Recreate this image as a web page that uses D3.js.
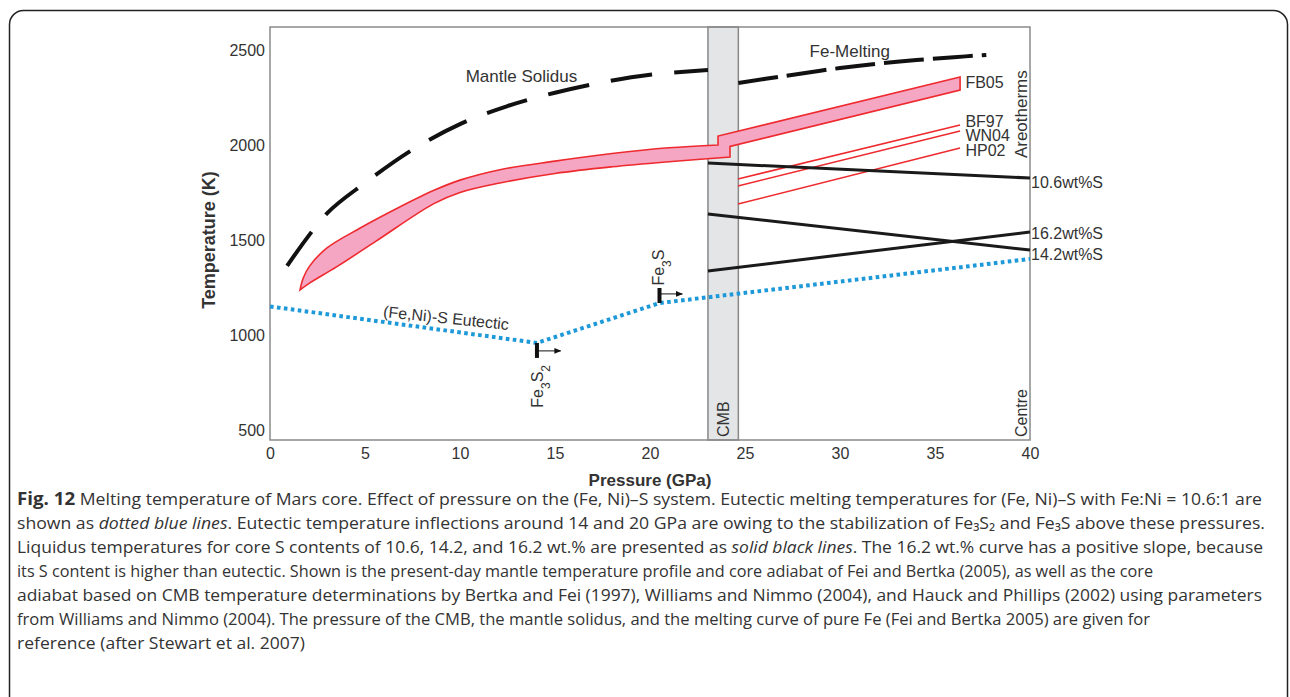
<!DOCTYPE html>
<html>
<head>
<meta charset="utf-8">
<script src="https://cdn.jsdelivr.net/npm/d3@7"></script>
<style>
  body { margin: 0; background: #fff; }
  svg text { font-family: "Liberation Sans", Arial, sans-serif; fill: #333; }
  .cap text { font-family: "Open Sans", "Liberation Sans", sans-serif; fill: #333; }
</style>
</head>
<body>
<div id="chart"></div>
<script>
// ---- data ----
const pressureTicks = [0, 5, 10, 15, 20, 25, 30, 35, 40];
const tempTicks = [500, 1000, 1500, 2000, 2500];

const cmbRange = [23.05, 24.65];

// mantle solidus (dashed, left of CMB)
const solidusP = [0.9, 3.0, 5.0, 7.5, 10, 12.5, 15, 17.5, 20, 23.05];
const solidusT = [1363, 1640, 1800, 1975, 2110, 2205, 2275, 2330, 2370, 2395];

// pure Fe melting (dashed, right of CMB)
const feMeltP = [24.65, 27, 30, 33, 36, 37.7];
const feMeltT = [2326, 2362, 2405, 2438, 2462, 2474];

// FB05 areotherm band
const fbUpperP = [1.58, 1.75, 2.1, 3.0, 4.7, 6.8, 8.6, 10, 12.1, 15, 18, 21, 23.58];
const fbUpperT = [1237, 1300, 1365, 1458, 1560, 1672, 1760, 1815, 1870, 1915, 1955, 1985, 2000];
const fbLowerP = [1.58, 2.1, 3.5, 5.6, 8.6, 10, 12.1, 15, 18, 21, 24.21];
const fbLowerT = [1237, 1274, 1358, 1495, 1690, 1750, 1800, 1850, 1885, 1912, 1937];
const fbCoreP = [23.58, 36.32, 36.32, 24.21];
const fbCoreT = [2047, 2358, 2289, 1992];

// thin core adiabats
const adiabatNames = ["BF97", "WN04", "HP02"];
const adiabatP = [24.63, 36.32];
const adiabatT = [[1821, 2105], [1784, 2074], [1689, 1984]];
const adiabatLabelT = [2122, 2048, 1974];

// liquidus lines (CMB edge -> centre)
const liquidusNames = ["10.6wt%S", "14.2wt%S", "16.2wt%S"];
const liquidusP = [23.05, 40];
const liquidusT = [[1905, 1826], [1637, 1447], [1337, 1542]];
const liquidusLabelT = [1802, 1423, 1535];

// eutectic
const eutecticP = [0, 14.05, 20.5, 40];
const eutecticT = [1150, 958, 1168, 1400];

// phase markers
const phaseP = [14.05, 20.5];
const phaseBarT = [[958, 879], [1168, 1247]];
const phaseArrowT = [916, 1216];
const phaseArrowEndP = [15.3, 21.7];

const captionLines = [
  [["b", "Fig. 12"], ["", " Melting temperature of Mars core. Effect of pressure on the (Fe, Ni)–S system. Eutectic melting temperatures for (Fe, Ni)–S with Fe:Ni = 10.6:1 are"]],
  [["", "shown as "], ["i", "dotted blue lines"], ["", ". Eutectic temperature inflections around 14 and 20 GPa are owing to the stabilization of Fe₃S₂ and Fe₃S above these pressures."]],
  [["", "Liquidus temperatures for core S contents of 10.6, 14.2, and 16.2 wt.% are presented as "], ["i", "solid black lines"], ["", ". The 16.2 wt.% curve has a positive slope, because"]],
  [["", "its S content is higher than eutectic. Shown is the present-day mantle temperature profile and core adiabat of Fei and Bertka (2005), as well as the core"]],
  [["", "adiabat based on CMB temperature determinations by Bertka and Fei (1997), Williams and Nimmo (2004), and Hauck and Phillips (2002) using parameters"]],
  [["", "from Williams and Nimmo (2004). The pressure of the CMB, the mantle solidus, and the melting curve of pure Fe (Fei and Bertka 2005) are given for"]],
  [["", "reference (after Stewart et al. 2007)"]]
];
const captionWidths = [1245, 1248, 1246, 1136, 1245, 1133, 288];

// ---- drawing ----
const svg = d3.select("#chart").append("svg")
  .attr("width", 1290)
  .attr("height", 697);

svg.append("rect")
  .attr("x", 9.5).attr("y", 10.5)
  .attr("width", 1278).attr("height", 720)
  .attr("rx", 14)
  .attr("fill", "none")
  .attr("stroke", "#222")
  .attr("stroke-width", 1.5);

const x = d3.scaleLinear().domain([0, 40]).range([270, 1030]);
const y = d3.scaleLinear().domain([447, 2621]).range([440, 27]);

const red = "#ee2a2e";
const pink = "#f4a6c3";
const blue = "#1d98d8";

// CMB band
svg.append("rect")
  .attr("x", x(cmbRange[0]))
  .attr("y", y(2621))
  .attr("width", x(cmbRange[1]) - x(cmbRange[0]))
  .attr("height", y(447) - y(2621))
  .attr("fill", "#e4e5e7")
  .attr("stroke", "#888")
  .attr("stroke-width", 1.5);

// frame
svg.append("rect")
  .attr("x", x(0)).attr("y", y(2621))
  .attr("width", x(40) - x(0))
  .attr("height", y(447) - y(2621))
  .attr("fill", "none")
  .attr("stroke", "#8a8a8a")
  .attr("stroke-width", 1.5);

const line = d3.line().x(d => x(d[0])).y(d => y(d[1]));
const smooth = d3.line().x(d => x(d[0])).y(d => y(d[1])).curve(d3.curveCatmullRom.alpha(0.5));

// FB05 band
const upper = fbUpperP.map((p, i) => [p, fbUpperT[i]]);
const lower = fbLowerP.map((p, i) => [p, fbLowerT[i]]).reverse();
const core = fbCoreP.map((p, i) => [p, fbCoreT[i]]);
const bandPath = smooth(upper) + line(core).replace("M", "L") + smooth(lower).replace("M", "L") + "Z";
svg.append("path")
  .attr("d", bandPath)
  .attr("fill", pink)
  .attr("stroke", red)
  .attr("stroke-width", 1.6)
  .attr("stroke-linejoin", "miter");

// thin adiabats
adiabatT.forEach(t => {
  svg.append("path")
    .attr("d", line(adiabatP.map((p, i) => [p, t[i]])))
    .attr("fill", "none")
    .attr("stroke", red)
    .attr("stroke-width", 1.6);
});

// liquidus lines
liquidusT.forEach(t => {
  svg.append("path")
    .attr("d", line(liquidusP.map((p, i) => [p, t[i]])))
    .attr("fill", "none")
    .attr("stroke", "#1a1a1a")
    .attr("stroke-width", 3);
});

// solidus and Fe melting
svg.append("path")
  .attr("d", smooth(solidusP.map((p, i) => [p, solidusT[i]])))
  .attr("fill", "none")
  .attr("stroke", "#111")
  .attr("stroke-width", 4)
  .attr("stroke-dasharray", "42,22");

svg.append("path")
  .attr("d", smooth(feMeltP.map((p, i) => [p, feMeltT[i]])))
  .attr("fill", "none")
  .attr("stroke", "#111")
  .attr("stroke-width", 4)
  .attr("stroke-dasharray", "40,9");

// eutectic
svg.append("path")
  .attr("d", line(eutecticP.map((p, i) => [p, eutecticT[i]])))
  .attr("fill", "none")
  .attr("stroke", blue)
  .attr("stroke-width", 4)
  .attr("stroke-dasharray", "3.6,3.4");

// phase markers
svg.append("defs").append("marker")
  .attr("id", "arr")
  .attr("viewBox", "0 0 10 10")
  .attr("refX", 9).attr("refY", 5)
  .attr("markerWidth", 7).attr("markerHeight", 7)
  .attr("markerUnits", "userSpaceOnUse")
  .attr("orient", "auto")
  .append("path")
  .attr("d", "M0,1L10,5L0,9Z")
  .attr("fill", "#111");

phaseP.forEach((p, i) => {
  svg.append("line")
    .attr("x1", x(p)).attr("x2", x(p))
    .attr("y1", y(phaseBarT[i][0])).attr("y2", y(phaseBarT[i][1]))
    .attr("stroke", "#111")
    .attr("stroke-width", 4);
  svg.append("line")
    .attr("x1", x(p)).attr("x2", x(phaseArrowEndP[i]))
    .attr("y1", y(phaseArrowT[i])).attr("y2", y(phaseArrowT[i]))
    .attr("stroke", "#111")
    .attr("stroke-width", 1)
    .attr("marker-end", "url(#arr)");
});

// axes
const xAxis = svg.append("g")
  .attr("transform", `translate(0,${y(447)})`)
  .call(d3.axisBottom(x).tickValues(pressureTicks).tickFormat(d3.format("d")).tickSize(0).tickPadding(8));
const yAxis = svg.append("g")
  .attr("transform", `translate(${x(0)},0)`)
  .call(d3.axisLeft(y).tickValues(tempTicks).tickFormat(d3.format("d")).tickSize(0).tickPadding(5));
[xAxis, yAxis].forEach(g => {
  g.select(".domain").remove();
  g.selectAll("text")
    .style("font-family", "'Liberation Sans', Arial, sans-serif")
    .style("font-size", "16px")
    .attr("fill", "#3a3a3a");
});

svg.append("text")
  .attr("x", 650).attr("y", 486)
  .attr("text-anchor", "middle")
  .style("font-size", "17px").style("font-weight", "bold")
  .attr("fill", "#222")
  .text("Pressure (GPa)");

svg.append("text")
  .attr("transform", "translate(215,240) rotate(-90)")
  .attr("text-anchor", "middle")
  .style("font-size", "18px").style("font-weight", "bold")
  .attr("fill", "#222")
  .text("Temperature (K)");

// annotations
function label(txt, tx, ty, opts = {}) {
  const t = svg.append("text")
    .attr("transform", `translate(${tx},${ty}) rotate(${opts.rot || 0})`)
    .attr("text-anchor", opts.anchor || "start")
    .attr("dy", "0.35em")
    .style("font-size", (opts.size || 16) + "px")
    .text(txt);
  return t;
}

label("Mantle Solidus", x(10.3), y(2363), { size: 17 });
label("Fe-Melting", x(28.4), y(2493), { size: 17 });
label("FB05", x(36.6), y(2332));
adiabatNames.forEach((n, i) => label(n, x(36.6), y(adiabatLabelT[i])));
liquidusNames.forEach((n, i) => label(n, x(40) + 1, y(liquidusLabelT[i])));
label("(Fe,Ni)-S Eutectic", x(9.27), y(1090), { anchor: "middle", rot: 6 });
label("Areotherms", x(40) - 9, y(1931), { rot: -90, size: 17 });
label("Centre", x(40) - 9, y(447) - 3, { rot: -90 });
label("CMB", x(23.85), y(447) - 3, { rot: -90 });

const fe3s2 = label("", x(14.05), y(842), { rot: -90, anchor: "end" });
fe3s2.append("tspan").text("Fe");
fe3s2.append("tspan").attr("baseline-shift", "sub").style("font-size", "12px").text("3");
fe3s2.append("tspan").text("S");
fe3s2.append("tspan").attr("baseline-shift", "sub").style("font-size", "12px").text("2");

const fe3s = label("", x(20.45), y(1260), { rot: -90 });
fe3s.append("tspan").text("Fe");
fe3s.append("tspan").attr("baseline-shift", "sub").style("font-size", "12px").text("3");
fe3s.append("tspan").text("S");

// caption
const cap = svg.append("g").attr("class", "cap");
captionLines.forEach((segs, i) => {
  const t = cap.append("text")
    .attr("x", 17)
    .attr("y", 505 + i * 24)
    .style("font-size", "16px")
    .attr("textLength", captionWidths[i])
    .attr("lengthAdjust", "spacingAndGlyphs");
  segs.forEach(([k, s]) => {
    const ts = t.append("tspan").text(s);
    if (k === "b") ts.style("font-weight", "bold").style("font-size", "17px");
    if (k === "i") ts.style("font-style", "italic");
  });
});
</script>
</body>
</html>
